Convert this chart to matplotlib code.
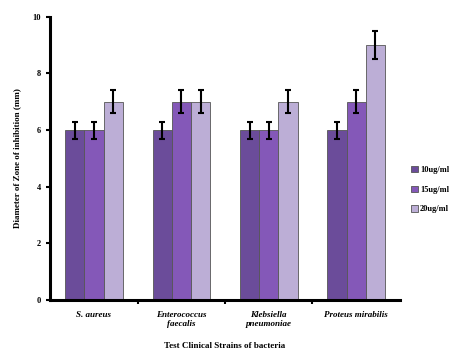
import numpy as np
import matplotlib.pyplot as plt

strains = ['S. aureus', 'Enterococcus\nfaecalis', 'Klebsiella\npneumoniae', 'Proteus mirabilis']
conc = ['10ug/ml', '15ug/ml', '20ug/ml']
zone_10 = [6, 6, 6, 6]
zone_15 = [6, 7, 6, 7]
zone_20 = [7, 7, 7, 9]
err_10 = [0.3, 0.3, 0.3, 0.3]
err_15 = [0.3, 0.4, 0.3, 0.4]
err_20 = [0.4, 0.4, 0.4, 0.5]

colors = ['#6b4c9a', '#8458b8', '#bcaed6']

plt.rcParams['font.family'] = ['Liberation Serif', 'DejaVu Serif']
plt.rcParams['font.weight'] = 'bold'
plt.rcParams['axes.labelweight'] = 'bold'

fig = plt.figure(figsize=(4.65, 3.58), dpi=100)
ax = fig.add_axes([0.108, 0.162, 0.752, 0.791])

x = np.arange(len(strains))
w = 0.22
for i, (vals, errs) in enumerate(zip([zone_10, zone_15, zone_20], [err_10, err_15, err_20])):
    ax.bar(x + (i - 1) * w, vals, w, color=colors[i], edgecolor='#555555', linewidth=0.6,
           label=conc[i], yerr=errs, capsize=2.5,
           error_kw=dict(elinewidth=1.5, capthick=1.5, ecolor='black'))

ax.set_xlim(-0.5, 3.5)
ax.set_ylim(0, 10)
ax.set_yticks([0, 2, 4, 6, 8, 10])
ax.set_xticks(x)
ax.set_xticklabels(strains, style='italic', fontsize=6.5)
ax.set_xticks(np.arange(0.5, 3.5, 1), minor=True)
ax.tick_params(axis='x', which='major', length=0, pad=8)
ax.tick_params(axis='x', which='minor', length=3, width=1.5)
ax.tick_params(axis='y', labelsize=6, length=3, width=1.5)
for s in ['top', 'right']:
    ax.spines[s].set_visible(False)
for s in ['left', 'bottom']:
    ax.spines[s].set_linewidth(2.2)

ax.set_xlabel('Test Clinical Strains of bacteria', fontsize=6.5, labelpad=10)
ax.set_ylabel('Diameter of Zone of inhibition (mm)', fontsize=6.5, labelpad=8)

ax.legend(loc='center left', bbox_to_anchor=(1.01, 0.39), frameon=False, fontsize=6,
          handlelength=0.8, handleheight=0.8, labelspacing=1.4, handletextpad=0.3)

fig.savefig('out.png', dpi=100)
